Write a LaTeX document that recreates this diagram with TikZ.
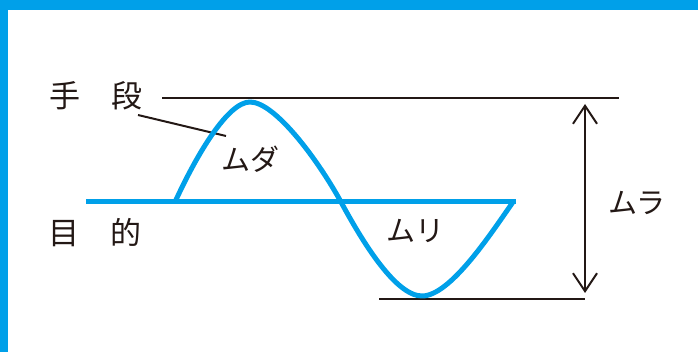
\documentclass[tikz,border=0pt]{standalone}
\usepackage{fontspec}
\newfontfamily\jp{Noto Sans CJK JP}
\usetikzlibrary{arrows.meta}
\definecolor{cyanblue}{HTML}{00A0E9}
\definecolor{inkblack}{HTML}{231815}
\tikzset{
  blackline/.style={draw=inkblack, line width=2pt},
  blueline/.style={draw=cyanblue, line width=5pt},
  label/.style={inner sep=0pt, text=inkblack, font=\jp\fontsize{31}{31}\selectfont},
  kata/.style={inner sep=0pt, text=inkblack, font=\jp\fontsize{29}{29}\selectfont},
}
\begin{document}
\begin{tikzpicture}[x=1pt, y=-1pt]
\useasboundingbox (0,0) rectangle (698,352);
% frame
\fill[cyanblue] (0,0) rectangle (698,10);
\fill[cyanblue] (0,0) rectangle (8,352);

% coordinates
\coordinate (topL) at (162,98);
\coordinate (topR) at (619,98);
\coordinate (botL) at (379,299);
\coordinate (botR) at (585,299);
\coordinate (arrT) at (585,98);
\coordinate (arrB) at (585,299);
\coordinate (baseL) at (86,202);
\coordinate (baseR) at (516,202);
\coordinate (A) at (175,202);
\coordinate (P) at (250,102);
\coordinate (C) at (341,202);
\coordinate (T) at (422,296);
\coordinate (E) at (513,202);

% labels
\node[label] (shudan) at (96,96) {手　段};
\node[label] (mokuteki) at (95,233) {目　的};
\node[kata] (muda) at (250,159) {ムダ};
\node[kata] (muri) at (415,231) {ムリ};
\node[kata] (mura) at (637,203) {ムラ};
\coordinate (leadA) at (138,115);
\coordinate (leadB) at (226,136);

% black lines
\draw[blackline] (topL) -- (topR);
\draw[blackline] (botL) -- (botR);
\draw[blackline, {Straight Barb[length=18pt,width=24pt,line width=2pt]}-{Straight Barb[length=18pt,width=24pt,line width=2pt]}, shorten <=6pt, shorten >=6pt] (arrT) -- (arrB);
\draw[blackline] (leadA) -- (leadB);

% blue
\draw[blueline] (baseL) -- (baseR);
\draw[blueline, line join=round] (A) .. controls (197,154) and (228,102) .. (P)
  .. controls (275,102) and (318,160) .. (C)
  .. controls (361,239) and (395,296) .. (T)
  .. controls (450,296) and (490,235) .. (E);
\end{tikzpicture}
\end{document}
